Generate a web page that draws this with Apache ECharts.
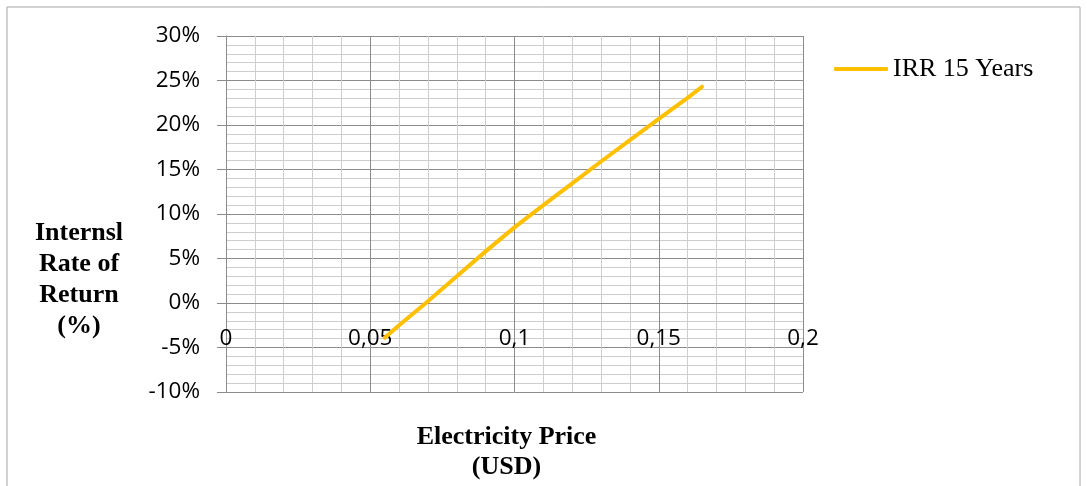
<!DOCTYPE html>
<html>
<head>
<meta charset="utf-8">
<script src="https://cdn.jsdelivr.net/npm/echarts@6/dist/echarts.min.js"></script>
<style>
html,body{margin:0;padding:0;background:#fff;}
#chart{width:1087px;height:486px;}
</style>
</head>
<body>
<div id="chart"></div>
<script>
const prices = [0.055, 0.06, 0.07, 0.08, 0.09, 0.10, 0.11, 0.12, 0.13, 0.14, 0.15, 0.16, 0.165];
const irr15 = [-3.9, -2.5, 0.2, 3.0, 5.8, 8.5, 11.0, 13.45, 15.9, 18.3, 20.7, 23.05, 24.3];
const seriesName = 'IRR 15 Years';
const yAxisTitle = 'Internsl\nRate of\nReturn\n(%)';
const xAxisTitle = 'Electricity Price\n(USD)';

const majorColor = '#8c8c8c';
const minorColor = '#cdcdcd';
const chart = echarts.init(document.getElementById('chart'));
chart.setOption({
  animation: false,
  backgroundColor: '#fff',
  grid: {left: 226, right: 284, top: 36, bottom: 94, containLabel: false},
  xAxis: {
    type: 'value', min: 0, max: 0.2, interval: 0.05,
    position: 'bottom', offset: -89,
    axisLine: {show: true, onZero: false, lineStyle: {color: majorColor, width: 1}},
    axisTick: {show: false},
    minorTick: {show: false, splitNumber: 5},
    splitLine: {show: true, lineStyle: {color: majorColor, width: 1}},
    minorSplitLine: {show: true, lineStyle: {color: minorColor, width: 1}},
    axisLabel: {
      margin: 24, fontFamily: 'Open Sans', fontSize: 22.5, color: '#000',
      formatter: v => String(+v.toFixed(3)).replace('.', ',')
    }
  },
  yAxis: {
    type: 'value', min: -10, max: 30, interval: 5,
    axisLine: {show: true, lineStyle: {color: majorColor, width: 1}},
    axisTick: {show: true, length: 9, lineStyle: {color: majorColor}},
    minorTick: {show: false, splitNumber: 5},
    splitLine: {show: true, lineStyle: {color: majorColor, width: 1}},
    minorSplitLine: {show: true, lineStyle: {color: minorColor, width: 1}},
    axisLabel: {margin: 26, fontFamily: 'Open Sans', fontSize: 22.5, color: '#000', padding: [4, 0, 0, 0], formatter: '{value}%'}
  },
  legend: {
    left: 829, top: 51, orient: 'vertical',
    itemWidth: 54, itemHeight: 4,
    textStyle: {fontFamily: 'Liberation Serif', fontSize: 26, color: '#000'},
    data: [{name: seriesName, icon: 'roundRect'}]
  },
  series: [{
    name: seriesName, type: 'line',
    data: prices.map((p, i) => [p, irr15[i]]),
    symbol: 'none', smooth: false,
    lineStyle: {color: '#FFC000', width: 4, cap: 'round', join: 'round'},
    itemStyle: {color: '#FFC000'}
  }],
  graphic: [
    {type: 'rect', shape: {x: 7, y: 7, width: 1073, height: 500}, style: {fill: 'none', stroke: '#a6a6a6', lineWidth: 1}, silent: true, z: -1},
    {type: 'text', x: 79, y: 279.5, style: {text: yAxisTitle, fontFamily: 'Liberation Serif', fontWeight: 'bold', fontSize: 26, lineHeight: 31, fill: '#000', align: 'center', verticalAlign: 'middle'}},
    {type: 'text', x: 506.5, y: 452, style: {text: xAxisTitle, fontFamily: 'Liberation Serif', fontWeight: 'bold', fontSize: 26, lineHeight: 30, fill: '#000', align: 'center', verticalAlign: 'middle'}}
  ]
});
</script>
</body>
</html>
